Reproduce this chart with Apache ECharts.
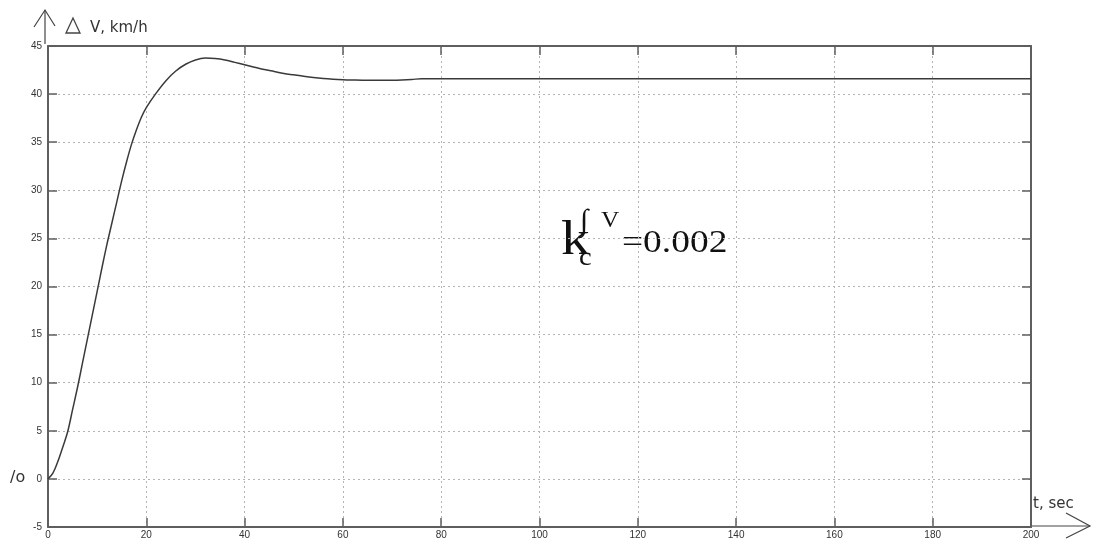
<!DOCTYPE html>
<html>
<head>
<meta charset="utf-8">
<script src="https://cdn.jsdelivr.net/npm/echarts@6/dist/echarts.min.js"></script>
<style>
  html, body { margin: 0; padding: 0; background: #fff; }
  #chart { width: 1093px; height: 541px; }
</style>
</head>
<body>
<div id="chart"></div>
<script>
// Speed deviation step response (time in seconds, deviation in km/h)
const timeSec = [0, 1, 2, 3, 4, 5, 6, 7, 8, 9, 10, 11, 12, 13, 14, 15, 16, 17, 18, 19, 20,
  22, 24, 26, 28, 30, 32, 34, 36, 38, 40, 42, 44, 46, 48, 50, 52, 54, 56, 58, 60,
  62, 64, 66, 68, 70, 72, 74, 76, 78, 80, 100, 120, 140, 160, 180, 200];
const deltaV = [0, 0.6, 1.8, 3.3, 4.9, 7.2, 9.5, 12.0, 14.5, 17.0, 19.5, 22.0, 24.4, 26.6, 28.8, 31.0, 33.0, 34.8, 36.3, 37.6, 38.6,
  40.1, 41.4, 42.4, 43.1, 43.55, 43.75, 43.7, 43.55, 43.3, 43.05, 42.8, 42.55, 42.35, 42.15, 42.0, 41.85, 41.72, 41.62, 41.55, 41.5,
  41.47, 41.45, 41.45, 41.45, 41.45, 41.47, 41.52, 41.6, 41.6, 41.6, 41.6, 41.6, 41.6, 41.6, 41.6, 41.6];

const xTicks = { min: 0, max: 200, interval: 20 };
const yTicks = { min: -5, max: 45, interval: 5 };

const points = timeSec.map((t, i) => [t, deltaV[i]]);

const axisColor = '#5f5f5f';
const gridLine = { show: true, lineStyle: { color: '#b4b4b4', type: [2, 3], width: 1 } };
const frameLine = { show: true, onZero: false, lineStyle: { color: axisColor, width: 2 } };
const frameTick = { show: true, inside: true, length: 9, lineStyle: { color: axisColor, width: 1.5 } };

// place a text so that its alphabetic baseline sits at `base`, optionally widened
function label(x, base, text, size, family, color, widen) {
  return {
    type: 'text', x: x, y: base - 0.8 * size, scaleX: widen || 1,
    style: { x: 0, y: 0, text: text, font: size + 'px ' + family, fill: color }
  };
}

const chart = echarts.init(document.getElementById('chart'));
chart.setOption({
  animation: false,
  backgroundColor: '#ffffff',
  grid: { left: 48, right: 62, top: 46, bottom: 14, containLabel: false },
  xAxis: [{
    type: 'value', position: 'bottom',
    min: xTicks.min, max: xTicks.max, interval: xTicks.interval,
    axisLine: frameLine, axisTick: frameTick,
    axisLabel: { color: '#333', fontSize: 10, fontFamily: 'Liberation Sans', margin: 3 },
    splitLine: gridLine
  }, {
    type: 'value', position: 'top',
    min: xTicks.min, max: xTicks.max, interval: xTicks.interval,
    axisLine: frameLine, axisTick: frameTick,
    axisLabel: { show: false },
    splitLine: { show: false }
  }],
  yAxis: [{
    type: 'value', position: 'left',
    min: yTicks.min, max: yTicks.max, interval: yTicks.interval,
    axisLine: frameLine, axisTick: frameTick,
    axisLabel: { color: '#333', fontSize: 10, fontFamily: 'Liberation Sans', margin: 6 },
    splitLine: gridLine
  }, {
    type: 'value', position: 'right',
    min: yTicks.min, max: yTicks.max, interval: yTicks.interval,
    axisLine: frameLine, axisTick: frameTick,
    axisLabel: { show: false },
    splitLine: { show: false }
  }],
  series: [{
    type: 'line',
    data: points,
    smooth: 0.35,
    showSymbol: false,
    lineStyle: { color: '#3a3a3a', width: 1.5 }
  }],
  graphic: [
    // vertical arrow beside the value axis
    { type: 'polyline', shape: { points: [[45, 44], [45, 10]] }, style: { stroke: '#444', lineWidth: 1.2, fill: null } },
    { type: 'polyline', shape: { points: [[34, 27], [45, 10], [55, 26]] }, style: { stroke: '#444', lineWidth: 1.2, fill: null } },
    { type: 'polygon', shape: { points: [[66, 33], [73, 18], [80, 33]] }, style: { stroke: '#444', lineWidth: 1.3, fill: null } },
    label(90, 33, 'V, km/h', 15, '"DejaVu Sans"', '#333'),
    // horizontal arrow beyond the time axis
    { type: 'polyline', shape: { points: [[1032, 526], [1090, 526]] }, style: { stroke: '#444', lineWidth: 1.2, fill: null } },
    { type: 'polyline', shape: { points: [[1066, 513], [1090, 526], [1066, 538]] }, style: { stroke: '#444', lineWidth: 1.2, fill: null } },
    label(1033, 509, 't, sec', 15, '"DejaVu Sans"', '#333'),
    label(10, 483, '/o', 16, '"DejaVu Sans"', '#333'),
    // controller gain annotation
    label(561, 256, 'k', 48, '"Liberation Serif"', '#111', 1.2),
    label(579, 266, 'c', 26, '"Liberation Serif"', '#111', 1.1),
    label(580, 231, '∫', 30, '"Liberation Serif"', '#111'),
    label(601, 228, 'V', 23, '"Liberation Serif"', '#111', 1.1),
    label(622, 253, '=0.002', 32, '"Liberation Serif"', '#111', 1.17)
  ]
});
</script>
</body>
</html>
